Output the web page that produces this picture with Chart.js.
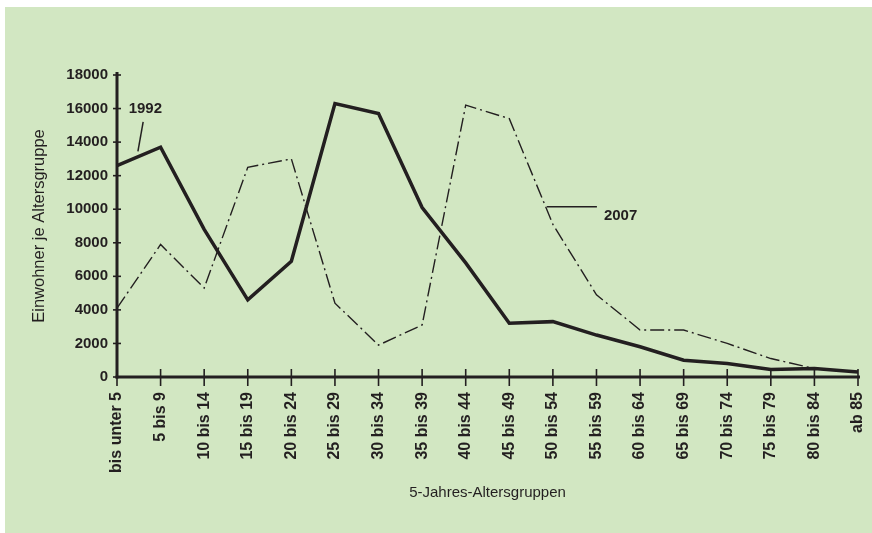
<!DOCTYPE html>
<html>
<head>
<meta charset="utf-8">
<script src="https://cdn.jsdelivr.net/npm/chart.js@4.4.1/dist/chart.umd.min.js"></script>
<style>
  html, body { margin: 0; padding: 0; background: #ffffff; }
  #wrap { width: 872px; height: 533px; }
</style>
</head>
<body>
<div id="wrap"><canvas id="c" width="872" height="533"></canvas></div>
<script>
const categories = ['bis unter 5', '5 bis 9', '10 bis 14', '15 bis 19', '20 bis 24', '25 bis 29',
  '30 bis 34', '35 bis 39', '40 bis 44', '45 bis 49', '50 bis 54', '55 bis 59', '60 bis 64',
  '65 bis 69', '70 bis 74', '75 bis 79', '80 bis 84', 'ab 85'];
const values1992 = [12600, 13700, 8800, 4600, 6900, 16300, 15700, 10100, 6800, 3200, 3300, 2500,
  1800, 1000, 800, 450, 500, 300];
const values2007 = [4100, 7900, 5300, 12500, 13000, 4400, 1900, 3100, 16200, 15400, 9100, 4900,
  2800, 2800, 2000, 1100, 500, 300];
const yTickValues = [0, 2000, 4000, 6000, 8000, 10000, 12000, 14000, 16000, 18000];
const seriesNames = ['1992', '2007'];

const INK = '#231f20';
const FONT = '"Liberation Sans", Arial, Helvetica, sans-serif';

const backgroundPlugin = {
  id: 'bg',
  beforeDraw(chart) {
    const ctx = chart.ctx;
    ctx.save();
    ctx.fillStyle = '#ffffff';
    ctx.fillRect(0, 0, chart.width, chart.height);
    ctx.fillStyle = '#d2e7c2';
    ctx.fillRect(5, 7, chart.width - 5, chart.height - 7);
    ctx.restore();
  }
};

const axesPlugin = {
  id: 'axesDraw',
  beforeDatasetsDraw(chart) {
    const ctx = chart.ctx;
    const xs = chart.scales.x, ys = chart.scales.y;
    const x0 = xs.left, x1 = xs.right;
    const yBottom = ys.getPixelForValue(0);
    const yTop = ys.getPixelForValue(yTickValues[yTickValues.length - 1]);
    ctx.save();
    ctx.strokeStyle = INK;
    ctx.lineCap = 'butt';
    ctx.lineWidth = 3;
    ctx.beginPath();
    ctx.moveTo(x0, yTop - 3);
    ctx.lineTo(x0, yBottom + 1.5);
    ctx.stroke();
    ctx.beginPath();
    ctx.moveTo(x0 - 1.5, yBottom);
    ctx.lineTo(x1 + 2, yBottom);
    ctx.stroke();
    ctx.lineWidth = 1.6;
    yTickValues.forEach(v => {
      const y = ys.getPixelForValue(v);
      ctx.beginPath();
      ctx.moveTo(x0 - 4, y);
      ctx.lineTo(x0 + 4, y);
      ctx.stroke();
    });
    categories.forEach((c, i) => {
      const x = xs.getPixelForValue(i);
      ctx.beginPath();
      ctx.moveTo(x, yBottom - 8);
      ctx.lineTo(x, yBottom + 9);
      ctx.stroke();
    });
    ctx.restore();
  }
};

// annotation anchors in data space: [categoryIndex, value]
const labelAnchors = {
  '1992': { text: [0.65, 16000], lineFrom: [0.6, 15200], lineTo: [0.48, 13450], align: 'center' },
  '2007': { text: [11.17, 9600], lineFrom: [9.86, 10150], lineTo: [11.01, 10150], align: 'left' }
};

const annotationPlugin = {
  id: 'annot',
  afterDatasetsDraw(chart) {
    const ctx = chart.ctx;
    const xs = chart.scales.x, ys = chart.scales.y;
    ctx.save();
    ctx.strokeStyle = INK;
    ctx.fillStyle = INK;
    ctx.lineWidth = 1.5;
    ctx.font = 'bold 15px ' + FONT;
    ctx.textBaseline = 'middle';
    seriesNames.forEach(name => {
      const a = labelAnchors[name];
      ctx.beginPath();
      ctx.moveTo(xs.getPixelForValue(a.lineFrom[0]), ys.getPixelForValue(a.lineFrom[1]));
      ctx.lineTo(xs.getPixelForValue(a.lineTo[0]), ys.getPixelForValue(a.lineTo[1]));
      ctx.stroke();
      ctx.textAlign = a.align;
      ctx.fillText(name, xs.getPixelForValue(a.text[0]), ys.getPixelForValue(a.text[1]));
    });
    ctx.restore();
  }
};

new Chart(document.getElementById('c'), {
  type: 'line',
  data: {
    labels: categories,
    datasets: [
      {
        label: seriesNames[0],
        data: values1992,
        borderColor: INK,
        borderWidth: 3.5,
        pointRadius: 0,
        tension: 0,
        fill: false,
        borderJoinStyle: 'miter'
      },
      {
        label: seriesNames[1],
        data: values2007,
        borderColor: INK,
        borderWidth: 1.4,
        borderDash: [14, 4, 2, 4],
        pointRadius: 0,
        tension: 0,
        fill: false
      }
    ]
  },
  options: {
    responsive: false,
    devicePixelRatio: 1,
    animation: false,
    layout: { padding: { top: 75, left: 30, right: 14, bottom: 30 } },
    plugins: {
      legend: { display: false },
      tooltip: { enabled: false },
      title: { display: false }
    },
    scales: {
      x: {
        type: 'category',
        offset: false,
        grid: { display: false, drawTicks: false },
        border: { display: false },
        ticks: {
          autoSkip: false,
          maxRotation: 90,
          minRotation: 90,
          padding: 15,
          color: INK,
          font: { family: FONT, size: 16, weight: 'bold' }
        },
        title: {
          display: true,
          text: '5-Jahres-Altersgruppen',
          color: INK,
          font: { family: FONT, size: 15, weight: 'normal' },
          padding: { top: 0, bottom: 1 }
        },
        afterFit(s) { s.height = 126; s.paddingRight = 0; s.paddingLeft = 0; }
      },
      y: {
        min: 0,
        max: 18000,
        grid: { display: false, drawTicks: false },
        border: { display: false },
        afterBuildTicks(s) { s.ticks = yTickValues.map(v => ({ value: v })); },
        ticks: {
          padding: 9,
          color: INK,
          font: { family: FONT, size: 15, weight: 'bold' },
          callback: v => String(v)
        },
        title: {
          display: true,
          text: 'Einwohner je Altersgruppe',
          color: INK,
          font: { family: FONT, size: 16.5, weight: 'normal' },
          padding: { top: 0, bottom: 0 }
        },
        afterFit(s) { s.width = 87; s.paddingTop = 0; s.paddingBottom = 0; }
      }
    }
  },
  plugins: [backgroundPlugin, axesPlugin, annotationPlugin]
});
</script>
</body>
</html>
